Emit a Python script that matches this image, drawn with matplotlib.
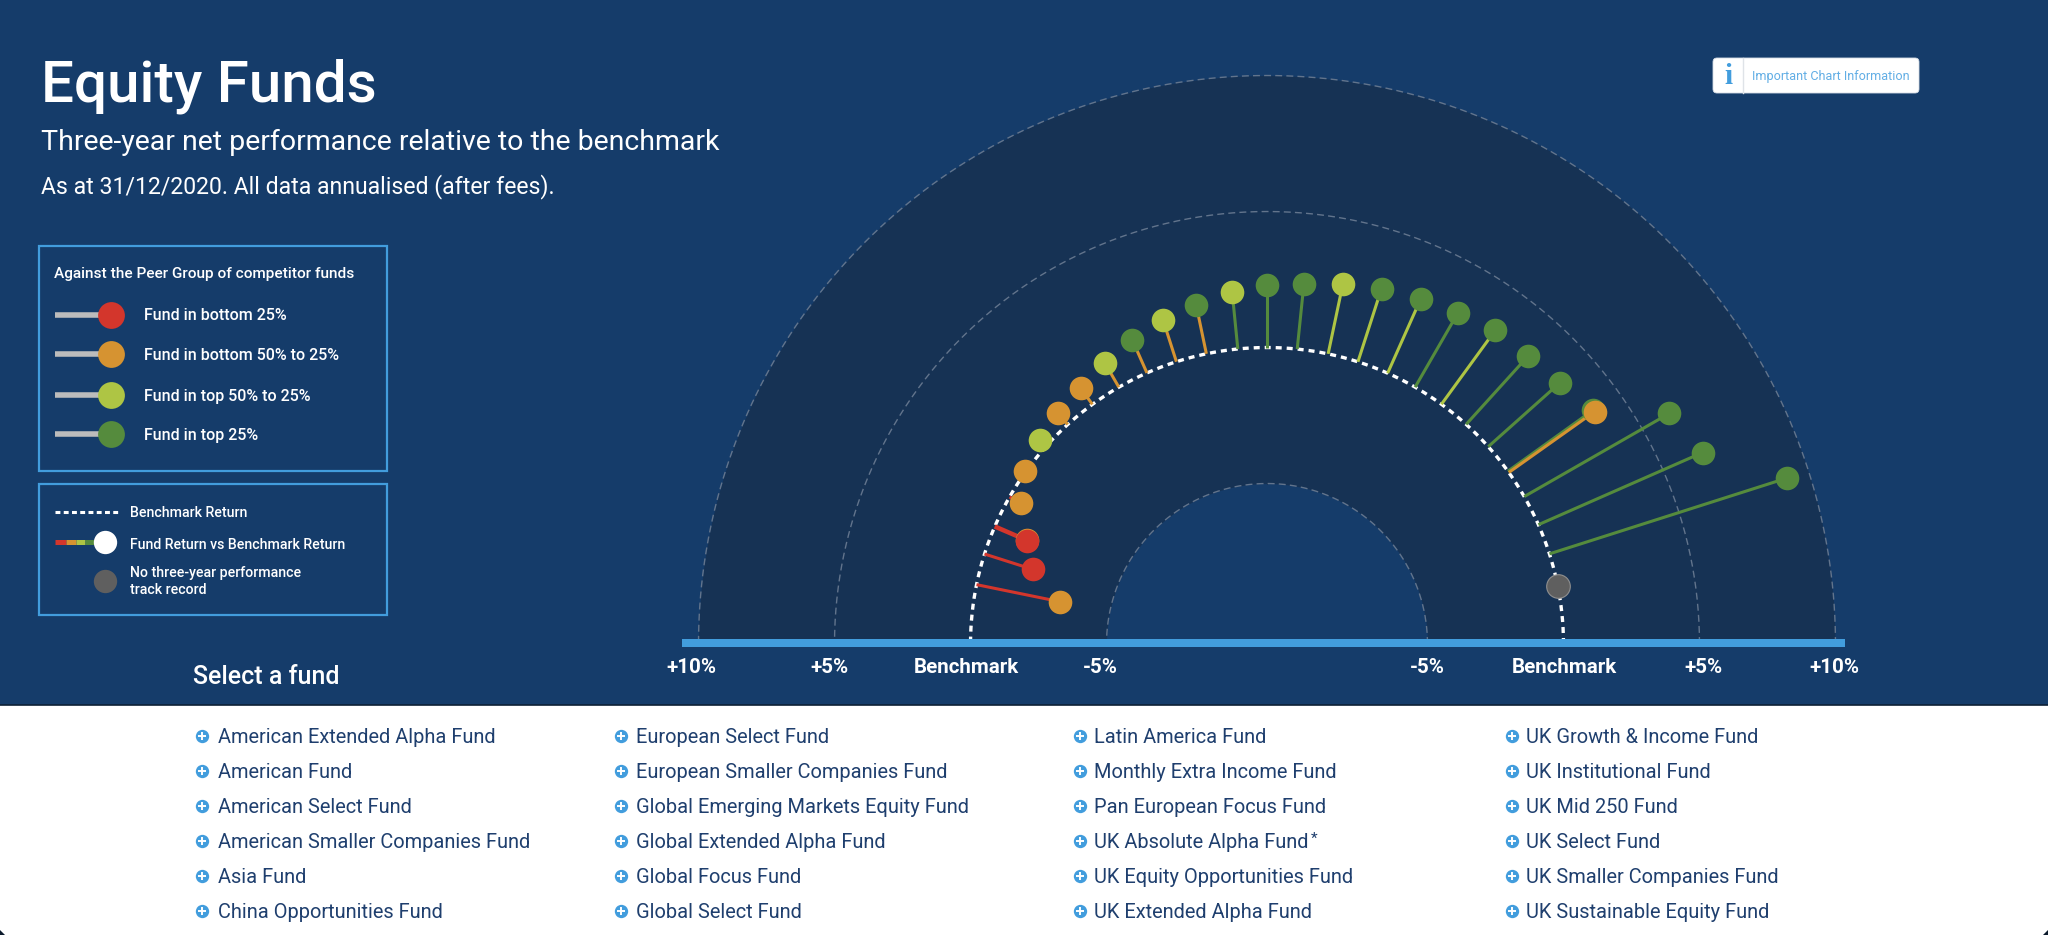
import numpy as np
import matplotlib
matplotlib.use('Agg')
import matplotlib.pyplot as plt
from matplotlib.patches import Rectangle, FancyBboxPatch

# fund positions on the arc (degrees) and return vs benchmark (%)
fund_angle = [168.45, 162.33, 156.5, 156.8, 150.27, 144.33, 138.08, 132.22, 126.08, 119.98,
              113.89, 107.79, 101.8, 95.65, 90.0, 84.15, 78.1, 72.14, 65.99, 60.03,
              53.96, 47.8, 41.73, 35.65, 35.35, 29.82, 23.73, 17.7]
fund_value = [-3.13, -1.86, -1.27, -1.29, -0.48, 0.03, 0.31, 0.56, 0.73, 1.04,
              1.34, 1.60, 1.82, 2.11, 2.30, 2.39, 2.61, 2.83, 2.97, 3.15,
              3.37, 3.37, 3.54, 3.84, 3.87, 6.15, 6.59, 9.16]
# quartile of the head and of the stem: r, o, l, g
head_class = ['o', 'r', 'o', 'r', 'o', 'o', 'l', 'o', 'o', 'l',
              'g', 'l', 'g', 'l', 'g', 'g', 'l', 'g', 'g', 'g',
              'g', 'g', 'g', 'g', 'o', 'g', 'g', 'g']
stem_class = ['r', 'r', 'r', 'r', 'r', 'o', 'o', 'o', 'o', 'o',
              'o', 'o', 'o', 'g', 'g', 'g', 'l', 'l', 'l', 'g',
              'l', 'g', 'g', 'g', 'o', 'g', 'g', 'g']
no_record_angle = [11.2]

grid_values = [-5, 5, 10]
axis_labels = ['+10%', '+5%', 'Benchmark', '-5%', '-5%', 'Benchmark', '+5%', '+10%']

legend_peer = ['Fund in bottom 25%', 'Fund in bottom 50% to 25%', 'Fund in top 50% to 25%', 'Fund in top 25%']
legend_peer_class = ['r', 'o', 'l', 'g']

fund_names = [
    ['American Extended Alpha Fund', 'American Fund', 'American Select Fund',
     'American Smaller Companies Fund', 'Asia Fund', 'China Opportunities Fund'],
    ['European Select Fund', 'European Smaller Companies Fund', 'Global Emerging Markets Equity Fund',
     'Global Extended Alpha Fund', 'Global Focus Fund', 'Global Select Fund'],
    ['Latin America Fund', 'Monthly Extra Income Fund', 'Pan European Focus Fund',
     'UK Absolute Alpha Fund', 'UK Equity Opportunities Fund', 'UK Extended Alpha Fund'],
    ['UK Growth & Income Fund', 'UK Institutional Fund', 'UK Mid 250 Fund',
     'UK Select Fund', 'UK Smaller Companies Fund', 'UK Sustainable Equity Fund'],
]

colors = {'r': '#d3362c', 'o': '#d69331', 'l': '#aec544', 'g': '#558b3d'}
BG = '#153c6a'
BAND = '#163254'
BLUE = '#429ddd'
GRID = '#62748c'
NAVY = '#1f3f6e'

plt.rcParams['font.family'] = ['Roboto', 'DejaVu Sans']

W, H = 2048, 935
fig = plt.figure(figsize=(W / 100, H / 100), dpi=100, facecolor=BG)

# half circle chart on a polar axes, centre at pixel (1267, 644)
cx, cy = 1267, 644
px_per_pct = 27.2
rmin, rmax = -10.9, 10
R = (rmax - rmin) * px_per_pct
pol = fig.add_axes([(cx - R) / W, (H - cy - R) / H, 2 * R / W, 2 * R / H], projection='polar', zorder=1)
pol.set_axis_off()
pol.set_ylim(rmin, rmax)

arc = np.linspace(0, np.pi, 361)
pol.fill_between(arc, -5, 10, color=BAND, lw=0, zorder=1)
for v in grid_values:
    pol.plot(arc, np.full_like(arc, v), color=GRID, lw=1, dashes=(5, 3), clip_on=False, zorder=2)
pol.plot(arc, np.zeros_like(arc), color='white', lw=2.4, dashes=(1.8, 1.5), zorder=3)

for a, v, c in zip(fund_angle, fund_value, stem_class):
    t = np.radians(a)
    pol.plot([t, t], [0, v], color=colors[c], lw=2.2, solid_capstyle='butt', zorder=4)
for a, v, c in zip(fund_angle, fund_value, head_class):
    pol.plot(np.radians(a), v, 'o', ms=17, color=colors[c], mec='none', zorder=5)
pol.plot(np.radians(no_record_angle), [0], 'o', ms=17, color='#5f5f5f', mec='#8f8f8f', mew=0.8, zorder=5)

# everything else is drawn in pixel coordinates on top
ax = fig.add_axes([0, 0, 1, 1], zorder=2)
ax.set_xlim(0, W)
ax.set_ylim(H, 0)
ax.axis('off')

ax.add_patch(Rectangle((0, 705), W, 230, fc='white', ec='none'))
ax.plot([0, W], [704.5, 704.5], color='#0d2036', lw=1.2)
ax.add_patch(Rectangle((682, 639), 1163, 8, fc=BLUE, ec='none'))
# rounded window corners
ax.fill([0, 5, 0], [930, 935, 935], color='#0b1a2c', lw=0)
ax.fill([W, W - 5, W], [930, 935, 935], color='#0b1a2c', lw=0)

ax.text(41, 101, 'Equity Funds', color='white', fontsize=42, fontweight='medium')
ax.text(41, 150, 'Three-year net performance relative to the benchmark', color='white', fontsize=20.5)
ax.text(41, 193, 'As at 31/12/2020. All data annualised (after fees).', color='white', fontsize=16.55)

label_x = [691, 829, 966, 1100, 1427, 1564, 1703, 1834]
for x, s in zip(label_x, axis_labels):
    ax.text(x, 673, s, color='white', fontsize=14.8, fontweight='bold', ha='center')

# legend boxes
ax.add_patch(Rectangle((39, 246), 348, 224.5, fc='none', ec=BLUE, lw=1.6))
ax.add_patch(Rectangle((39, 483.5), 348, 131.5, fc='none', ec=BLUE, lw=1.6))
ax.text(54.5, 278, 'Against the Peer Group of competitor funds', color='white', fontsize=11.1, fontweight='medium')
for y, s, c in zip([314.7, 354, 395, 434.4], legend_peer, legend_peer_class):
    ax.plot([54.5, 102], [y, y], color='#bcbcbc', lw=4, solid_capstyle='butt')
    ax.plot(110.7, y, 'o', ms=19.3, color=colors[c], mec='none')
    ax.text(143.7, y + 5.5, s, color='white', fontsize=11.5, fontweight='medium')

ax.plot([54.5, 118], [512, 512], color='white', lw=2.2, dashes=(1.6, 1.1))
ax.text(130, 517, 'Benchmark Return', color='white', fontsize=10.2, fontweight='medium')
for x0, x1, c in zip([54.5, 65.6, 75.9, 84.8], [65.6, 75.9, 84.8, 98], ['r', 'o', 'l', 'g']):
    ax.plot([x0, x1], [542.4, 542.4], color=colors[c], lw=3.6, solid_capstyle='butt')
ax.plot(105, 542.4, 'o', ms=16.8, color='white', mec='none')
ax.text(130, 549, 'Fund Return vs Benchmark Return', color='white', fontsize=10.2, fontweight='medium')
ax.plot(105, 581, 'o', ms=16.8, color='#5f5f5f', mec='none')
ax.text(130, 577, 'No three-year performance', color='white', fontsize=10.2, fontweight='medium')
ax.text(130, 594, 'track record', color='white', fontsize=10.2, fontweight='medium')

# info button
ax.add_patch(FancyBboxPatch((1716, 61), 200, 29, boxstyle='round,pad=3,rounding_size=4', fc='white', ec='#d5dde6', lw=0.6))
ax.plot([1743, 1743], [58, 93], color='#dfe3e8', lw=1)
ax.text(1728, 76, 'i', color=BLUE, fontsize=21, fontweight='bold', family='Liberation Serif', ha='center', va='center')
ax.text(1751.5, 80, 'Important Chart Information', color='#62aee5', fontsize=9.1)

# fund selector
ax.text(193, 684, 'Select a fund', color='white', fontsize=18, fontweight='medium')
row_y = [736, 771, 806, 841.3, 876.3, 911.3]
icon_x = [202, 620.7, 1080, 1511.8]
text_x = [217.7, 635.6, 1094, 1526]
for col, names in enumerate(fund_names):
    for y, s in zip(row_y, names):
        ax.plot(icon_x[col], y, 'o', ms=9.6, color=BLUE, mec='none')
        ax.plot(icon_x[col], y, '+', ms=5.5, mew=1.4, color='white')
        ax.text(text_x[col], y + 7, s, color=NAVY, fontsize=14.4)
        if s == 'UK Absolute Alpha Fund':
            ax.text(1311, y + 2, '*', color=NAVY, fontsize=11)

fig.savefig('out.png', dpi=100, facecolor=BG)
